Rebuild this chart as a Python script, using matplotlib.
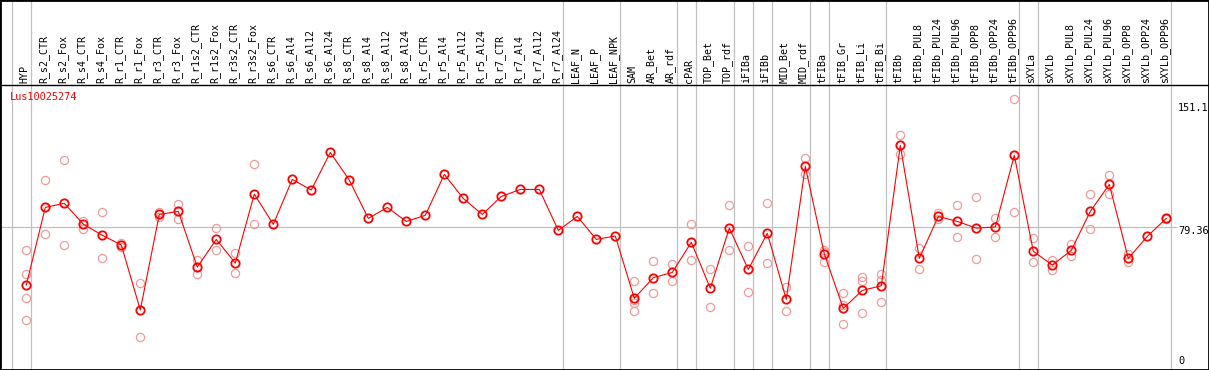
import numpy as np
import matplotlib
matplotlib.use("Agg")
import matplotlib.pyplot as plt
import matplotlib.transforms as mtransforms

# sample names along the x axis
samples = ["HYP", "R_s2_CTR", "R_s2_Fox", "R_s4_CTR", "R_s4_Fox", "R_r1_CTR", "R_r1_Fox",
           "R_r3_CTR", "R_r3_Fox", "R_r1s2_CTR", "R_r1s2_Fox", "R_r3s2_CTR", "R_r3s2_Fox",
           "R_s6_CTR", "R_s6_Al4", "R_s6_Al12", "R_s6_Al24", "R_s8_CTR", "R_s8_Al4",
           "R_s8_Al12", "R_s8_Al24", "R_r5_CTR", "R_r5_Al4", "R_r5_Al12", "R_r5_Al24",
           "R_r7_CTR", "R_r7_Al4", "R_r7_Al12", "R_r7_Al24", "LEAF_N", "LEAF_P", "LEAF_NPK",
           "SAM", "AR_Bet", "AR_rdf", "cPAR", "TOP_Bet", "TOP_rdf", "iFIBa", "iFIBb",
           "MID_Bet", "MID_rdf", "tFIBa", "tFIB_Gr", "tFIB_Li", "tFIB_Bi", "tFIBb",
           "tFIBb_PUL8", "tFIBb_PUL24", "tFIBb_PUL96", "tFIBb_OPP8", "tFIBb_OPP24",
           "tFIBb_OPP96", "sXYLa", "sXYLb", "sXYLb_PUL8", "sXYLb_PUL24", "sXYLb_PUL96",
           "sXYLb_OPP8", "sXYLb_OPP24", "sXYLb_OPP96"]

# mean expression per sample
means = [47.3, 90.5, 92.8, 81.2, 75.0, 69.6, 33.4, 86.6, 88.3, 57.3, 72.7, 59.5, 97.9,
         81.1, 106.1, 100.2, 121.1, 105.7, 84.4, 90.5, 82.7, 86.1, 108.9, 95.5, 86.6,
         96.6, 100.5, 100.5, 77.7, 85.5, 72.7, 74.6,
         39.9, 51.4, 54.3, 71.1, 45.5, 79.0, 56.0, 76.1, 39.3, 113.4, 64.6, 34.3, 44.3,
         46.9, 125.0, 62.1, 85.5, 82.7, 79.0, 79.6, 119.5, 66.1, 58.4, 66.6, 88.3, 103.3,
         62.1, 74.4, 84.4]

# individual replicates per sample
replicates = [[66.6, 53.4, 39.9, 27.8], [105.7, 75.7], [116.9, 69.4], [83.1, 78.6],
              [87.7, 62.1], [70.5, 68.3], [48.2, 18.2], [88.1, 85.0], [92.4, 83.9],
              [61.2, 53.4], [78.8, 66.6], [64.9, 54.0], [114.6, 81.1],
              [], [], [], [], [], [], [], [], [], [], [], [], [], [], [], [], [], [], [],
              [49.4, 39.0, 37.5, 32.7], [60.5, 42.7], [59.0, 49.4], [81.1, 61.0],
              [56.0, 34.9], [91.6, 66.6], [68.8, 43.2], [92.8, 59.4], [46.0, 32.7],
              [117.8, 108.9], [66.8, 65.5, 60.3], [42.7, 36.2, 25.4], [51.8, 49.4, 31.6],
              [53.3, 50.3, 37.7], [130.6, 120.0], [67.7, 56.0], [87.2, 84.2],
              [91.6, 73.8], [96.1, 61.6], [84.4, 73.8], [151.1, 87.7], [73.3, 59.9],
              [61.2, 55.5], [70.1, 63.3], [97.8, 78.3], [108.3, 97.8], [64.4, 59.9],
              [], [84.8, 84.0]]

# group separators drawn after these sample indices
separators = [-1, 0, 28, 31, 34, 35, 37, 38, 39, 41, 42, 45, 52, 53, 60]

gene = "Lus10025274"
y_marks = [0, 79.36, 151.1]
y_labels = ["0", "79.36", "151.1"]
mid_value = 79.36

W, H = 1209, 370
top_px = 85
step_px = 19.0
x0_px = 26.3
ymax = max(y_marks) * 1.05

fig = plt.figure(figsize=(W / 100, H / 100), dpi=100)
ax = fig.add_axes([0, 0, 1, 1])
ax.set_xlim(-x0_px / step_px, (W - x0_px) / step_px)
ax.set_ylim(0, ymax * H / (H - top_px))
ax.set_xticks([])
ax.set_yticks([])
for s in ax.spines.values():
    s.set_linewidth(2)
    s.set_color("black")

mono = "DejaVu Sans Mono"
x = np.arange(len(samples))

for b in separators:
    ax.axvline(b + 0.23, color="#c0c0c0", lw=0.9, zorder=1)

ax.hlines(mid_value, ax.get_xlim()[0], (1177 - x0_px) / step_px, color="#c0c0c0", lw=0.9, zorder=1)
ax.axhline(ymax, color="black", lw=1.0, zorder=2)

# replicates
rx, ry = [], []
for i, vals in enumerate(replicates):
    for v in vals:
        rx.append(i)
        ry.append(v)
ax.plot(rx, ry, "o", ls="none", ms=5.9, mfc="none", mec="#f09a9a", mew=0.9, zorder=3)

# mean line
ax.plot(x, means, "-", color="red", lw=0.8, zorder=4)
ax.plot(x, means, "o", ls="none", ms=6.0, mfc="none", mec="red", mew=1.3, zorder=5)

# sample labels
lab_tr = mtransforms.blended_transform_factory(ax.transData, ax.transAxes)
for i, name in enumerate(samples):
    ax.text(i - 0.1, (H - 83) / H, name, rotation=90, ha="center", va="bottom",
            fontsize=7.2, family=mono, transform=lab_tr)

ax.text(10 / W, 1 - 92 / H, gene, color="red", fontsize=7.4, family=mono,
        ha="left", va="top", transform=ax.transAxes)

# value labels on the right
val_tr = mtransforms.blended_transform_factory(ax.transAxes, ax.transData)
offsets = [9, -4, -9]
for v, lbl, off in zip(y_marks, y_labels, offsets):
    ax.annotate(lbl, xy=(1178 / W, v), xycoords=val_tr,
                xytext=(0, off * 0.72), textcoords="offset points",
                ha="left", va="center", fontsize=7.4, family=mono)

fig.savefig("out.png", dpi=100)
